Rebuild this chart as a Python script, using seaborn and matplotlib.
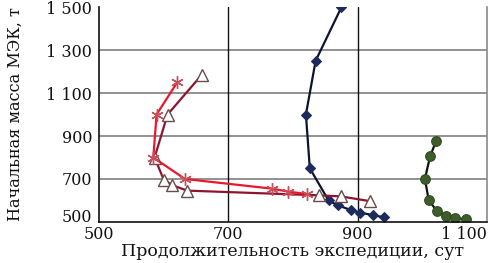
import matplotlib
matplotlib.use("Agg")
import matplotlib.pyplot as plt
import seaborn as sns
import pandas as pd

# Data
red_x = [621, 589, 584, 633, 768, 793, 822]
red_y = [1150, 1000, 800, 700, 655, 641, 630]

maroon_x = [659, 606, 586, 600, 613, 636, 840, 874, 919]
maroon_y = [1185, 1000, 800, 697, 672, 646, 624, 619, 597]

blue_x = [875, 835, 820, 826, 855, 869, 889, 904, 924, 940]
blue_y = [1500, 1250, 1000, 750, 600, 578, 556, 543, 532, 522]

green_x = [1021, 1012, 1004, 1010, 1023, 1036, 1051, 1067]
green_y = [875, 805, 700, 600, 550, 528, 517, 513]

x_ticks = [500, 700, 900, 1100]
y_ticks = [500, 700, 900, 1100, 1300, 1500]
x_label = "Продолжительность экспедиции, сут"
y_label = "Начальная масса МЭК, т"

sns.set_theme(style="white")
plt.rcParams["font.family"] = ["DejaVu Serif", "Liberation Serif"]

fig = plt.figure(figsize=(4.93, 2.63), dpi=100)
ax = fig.add_axes([0.2008, 0.156, 0.787, 0.817])

# grid
for yv in y_ticks[1:-1]:
    ax.axhline(yv, color="#7f7f7f", lw=1.2, zorder=0)
for xv in x_ticks[1:-1]:
    ax.axvline(xv, color="#111111", lw=1.0, zorder=0)

def draw(xs, ys, **kw):
    df = pd.DataFrame({"x": xs, "y": ys})
    sns.lineplot(data=df, x="x", y="y", sort=False, estimator=None, ax=ax, **kw)

draw(green_x, green_y, color="#111111", lw=1.6, marker="o", markersize=7,
     markerfacecolor="#3d5e2a", markeredgecolor="#2e4a20")
draw(blue_x, blue_y, color="#0d1430", lw=1.6, marker="D", markersize=5.5,
     markerfacecolor="#1c2b5e", markeredgecolor="#1c2b5e")
draw(maroon_x, maroon_y, color="#8e1530", lw=1.6, marker="^", markersize=8,
     markerfacecolor="white", markeredgecolor="#6a4a4a", markeredgewidth=1.0)
draw(red_x, red_y, color="#e8182e", lw=1.6, marker=(6, 2, 0), markersize=9,
     markeredgecolor="#c8505a", markeredgewidth=1.0)

ax.set_xlim(500, 1100)
ax.set_ylim(500, 1500)
ax.set_xticks(x_ticks)
ax.set_yticks(y_ticks)
ax.set_xticklabels([f"{v:,}".replace(",", " ") for v in x_ticks])
ax.set_yticklabels([f"{v:,}".replace(",", " ") for v in y_ticks])
ax.tick_params(axis="both", length=0, labelsize=11.5, colors="#111111")
ax.tick_params(axis="x", pad=3)
ax.tick_params(axis="y", pad=5)
xl = ax.get_xticklabels()
xl[-1].set_horizontalalignment("right")
xl[-1].set_x(1103)
yl = ax.get_yticklabels()
yl[0].set_verticalalignment("baseline")

for s in ["left", "bottom"]:
    ax.spines[s].set_color("#111111")
    ax.spines[s].set_linewidth(1.2)
ax.spines["right"].set_color("#8a8a8a")
ax.spines["right"].set_linewidth(1.2)
ax.spines["top"].set_visible(False)

ax.set_xlabel(x_label, fontsize=12.5, color="#111111", labelpad=0)
ax.set_ylabel(y_label, fontsize=11.6, color="#111111", labelpad=16)

fig.savefig("out.png", dpi=100)
